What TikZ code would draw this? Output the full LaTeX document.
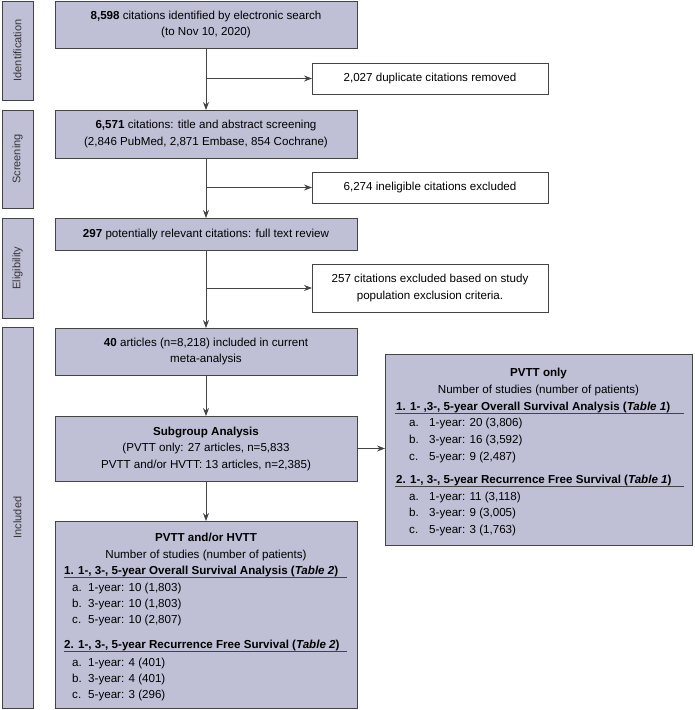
\documentclass[tikz,border=0pt]{standalone}
\usepackage{fontspec}
\setmainfont{Liberation Sans}
\usetikzlibrary{arrows.meta}
\definecolor{boxfill}{RGB}{191,191,214}
\definecolor{edge}{RGB}{68,68,68}
\definecolor{lbl}{RGB}{55,55,55}
\begin{document}
\begin{tikzpicture}[x=1pt,y=-1pt,
  font=\fontsize{11.6}{16.5}\selectfont,
  base/.style={draw=edge, line width=0.9pt, inner sep=0pt, outer sep=0pt},
  stage/.style={base, fill=boxfill, rotate=90, minimum height=31pt, text=lbl, font=\fontsize{11}{13}\selectfont},
  mainbox/.style={base, fill=boxfill, minimum width=302pt, align=center},
  sidebox/.style={base, fill=white, minimum width=236pt, align=center},
  txt/.style={inner sep=0pt, anchor=base west},
  ctxt/.style={inner sep=0pt, anchor=base},
  arr/.style={draw=edge, line width=0.8pt, -{Stealth[length=8pt,width=6pt]}},
  rulel/.style={draw=edge, line width=0.8pt}]
\useasboundingbox (0,0) rectangle (694,710);

% stage bars
\node[stage, minimum width=99pt]  (sIdent)  at (17.5,50.5)  {Identification};
\node[stage, minimum width=98pt]  (sScreen) at (17.5,159)   {Screening};
\node[stage, minimum width=100pt] (sElig)   at (17.5,268)   {Eligibility};
\node[stage, minimum width=381pt] (sIncl)   at (17.5,517.5) {Included};

% main column
\node[mainbox, minimum height=47pt] (b1) at (206,24.5)
  {\textbf{8,598} citations identified by electronic search\\(to Nov 10, 2020)};
\node[mainbox, minimum height=48pt] (b2) at (206,134)
  {\textbf{6,571} citations: title and abstract screening\\(2,846 PubMed, 2,871 Embase, 854 Cochrane)};
\node[mainbox, minimum height=32pt] (b3) at (206,234)
  {\textbf{297} potentially relevant citations: full text review};
\node[mainbox, minimum height=47pt] (b4) at (206,351.5)
  {\textbf{40} articles (n=8,218) included in current\\meta-analysis};
\node[mainbox, minimum height=65pt] (b5) at (206,448.5)
  {\textbf{Subgroup Analysis}\\(PVTT only: 27 articles, n=5,833\\PVTT and/or HVTT: 13 articles, n=2,385)};
\node[mainbox, minimum height=187pt] (b6) at (206,614.5) {};

% exclusion boxes
\node[sidebox, minimum height=31pt] (r1) at (430,78.5) {2,027 duplicate citations removed};
\node[sidebox, minimum height=31pt] (r2) at (430,187.5) {6,274 ineligible citations excluded};
\node[sidebox, minimum height=48pt] (r3) at (430,288)
  {257 citations excluded based on study\\population exclusion criteria.};

% PVTT only box
\node[base, fill=boxfill, minimum width=307pt, minimum height=191pt] (pv) at (538.5,449.5) {};

% connectors
\draw[arr] (b1) -- (b2);
\draw[arr] (b1.south |- r1.west) -- (r1.west);
\draw[arr] (b2) -- (b3);
\draw[arr] (b2.south |- r2.west) -- (r2.west);
\draw[arr] (b3) -- (b4);
\draw[arr] (b3.south |- r3.west) -- (r3.west);
\draw[arr] (b4) -- (b5);
\draw[arr] (b5) -- (b6);
\draw[arr] (b5.east) -- (pv.west |- b5.east);

% PVTT and/or HVTT contents
\node[ctxt] (t6) at (206,541) {\textbf{PVTT and/or HVTT}};
\node[ctxt] (n6) at (206,558) {Number of studies (number of patients)};
\node[txt] (h61) at (64,574) {\textbf{1. 1-, 3-, 5-year Overall Survival Analysis (\textit{Table 2})}};
\draw[rulel] (64,577.5) -- (347,577.5);
\node[txt] (i61a) at (72,591) {\makebox[16pt][l]{a.}1-year: 10 (1,803)};
\node[txt] (i61b) at (72,607) {\makebox[16pt][l]{b.}3-year: 10 (1,803)};
\node[txt] (i61c) at (72,623) {\makebox[16pt][l]{c.}5-year: 10 (2,807)};
\node[txt] (h62) at (64,648) {\textbf{2. 1-, 3-, 5-year Recurrence Free Survival (\textit{Table 2})}};
\draw[rulel] (64,651.5) -- (347,651.5);
\node[txt] (i62a) at (72,666) {\makebox[16pt][l]{a.}1-year: 4 (401)};
\node[txt] (i62b) at (72,682) {\makebox[16pt][l]{b.}3-year: 4 (401)};
\node[txt] (i62c) at (72,698) {\makebox[16pt][l]{c.}5-year: 3 (296)};

% PVTT only contents
\node[ctxt] (tp) at (538.5,376) {\textbf{PVTT only}};
\node[ctxt] (np) at (538.5,393) {Number of studies (number of patients)};
\node[txt] (hp1) at (396,410) {\textbf{1. 1- ,3-, 5-year Overall Survival Analysis (\textit{Table 1})}};
\draw[rulel] (395,413) -- (684,413);
\node[txt] (ip1a) at (409,426) {\makebox[20pt][l]{a.}1-year: 20 (3,806)};
\node[txt] (ip1b) at (409,443) {\makebox[20pt][l]{b.}3-year: 16 (3,592)};
\node[txt] (ip1c) at (409,460) {\makebox[20pt][l]{c.}5-year: 9 (2,487)};
\node[txt] (hp2) at (396,483) {\textbf{2. 1-, 3-, 5-year Recurrence Free Survival (\textit{Table 1})}};
\draw[rulel] (395,486) -- (684,486);
\node[txt] (ip2a) at (409,500) {\makebox[20pt][l]{a.}1-year: 11 (3,118)};
\node[txt] (ip2b) at (409,516) {\makebox[20pt][l]{b.}3-year: 9 (3,005)};
\node[txt] (ip2c) at (409,533) {\makebox[20pt][l]{c.}5-year: 3 (1,763)};
\end{tikzpicture}
\end{document}
